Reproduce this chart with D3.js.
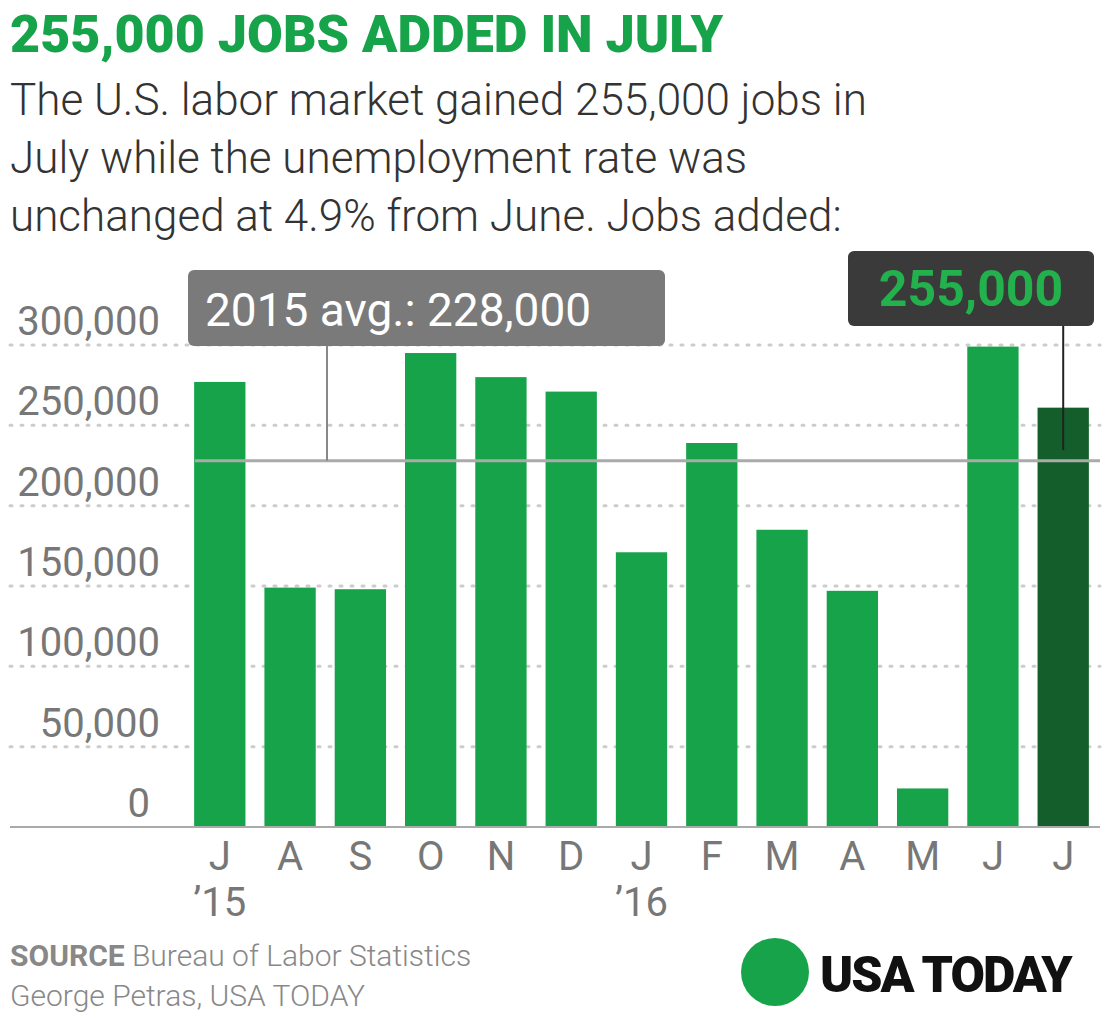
<!DOCTYPE html>
<html><head><meta charset="utf-8">
<script src="https://cdn.jsdelivr.net/npm/d3@7"></script>
<style>body{margin:0;background:#fff;font-family:Roboto,"Open Sans",sans-serif}</style>
</head><body><svg id="c" width="1115" height="1019"></svg>
<script>
const months = ["J","A","S","O","N","D","J","F","M","A","M","J","J"];
const yearLabels = ["'15","","","","","","'16","","","","","",""];
const jobs = [277000,149000,148000,295000,280000,271000,171000,239000,185000,147000,24000,299000,261000];
const yTicks = [0,50000,100000,150000,200000,250000,300000];
const avg2015 = 228000;

const svg = d3.select("#c");
const green = "#17a34a", dark = "#135e2b", grey = "#777";

svg.append("text").attr("x",10).attr("y",52).attr("fill",green)
  .style("font-size","52px").style("font-weight",900).text("255,000 JOBS ADDED IN JULY");
["The U.S. labor market gained 255,000 jobs in","July while the unemployment rate was","unchanged at 4.9% from June. Jobs added:"]
  .forEach((t,i)=>svg.append("text").attr("x",10).attr("y",115+i*58).attr("fill","#333")
  .style("font-size","44px").style("font-weight",300).text(t));

const x = d3.scaleBand().domain(d3.range(months.length)).range([185,1098]).paddingInner(0.27).paddingOuter(0.13);
const y = d3.scaleLinear().domain([0,300000]).range([827,345]);

const g = svg.append("g");
g.selectAll(".grid").data(yTicks.slice(1)).join("line")
  .attr("x1",10).attr("x2",1100).attr("y1",d=>y(d)).attr("y2",d=>y(d))
  .attr("stroke","#ccc").attr("stroke-width",3).attr("stroke-dasharray","2,9").attr("stroke-linecap","round");
g.selectAll(".tl").data(yTicks).join("text")
  .attr("x",d=>d===0?150:160).attr("y",d=>y(d)-10).attr("text-anchor","end")
  .attr("fill",grey).style("font-size","40px").text(d=>d3.format(",")(d));

g.selectAll("rect").data(jobs).join("rect")
  .attr("x",(d,i)=>x(i)).attr("width",x.bandwidth())
  .attr("y",d=>y(d)).attr("height",d=>y(0)-y(d))
  .attr("fill",(d,i)=>i===jobs.length-1?dark:green);

svg.append("line").attr("x1",10).attr("x2",1100).attr("y1",y(0)).attr("y2",y(0)).attr("stroke","#aaa").attr("stroke-width",2);
svg.append("line").attr("x1",195).attr("x2",1100).attr("y1",y(avg2015)).attr("y2",y(avg2015)).attr("stroke","#aaa").attr("stroke-width",3);

// avg callout
svg.append("line").attr("x1",327).attr("x2",327).attr("y1",340).attr("y2",y(avg2015)).attr("stroke","#888").attr("stroke-width",2);
svg.append("rect").attr("x",188).attr("y",270).attr("width",477).attr("height",76).attr("rx",6).attr("fill","#7a7a7a");
svg.append("text").attr("x",205).attr("y",326).attr("fill","#fff").style("font-size","46px").text("2015 avg.: 228,000");

// july callout
const lx = x(12)+x.bandwidth()/2;
svg.append("line").attr("x1",lx).attr("x2",lx).attr("y1",320).attr("y2",450).attr("stroke","#222").attr("stroke-width",2);
svg.append("rect").attr("x",848).attr("y",251).attr("width",246).attr("height",75).attr("rx",6).attr("fill","#3a3a3a");
svg.append("text").attr("x",971).attr("y",306).attr("text-anchor","middle").attr("fill","#22b14c")
  .style("font-size","50px").style("font-weight",700).text("255,000");

g.selectAll(".m").data(months).join("text")
  .attr("x",(d,i)=>x(i)+x.bandwidth()/2).attr("y",870).attr("text-anchor","middle")
  .attr("fill",grey).style("font-size","40px").text(d=>d);
g.selectAll(".yr").data(yearLabels).join("text")
  .attr("x",(d,i)=>x(i)+x.bandwidth()/2).attr("y",916).attr("text-anchor","middle")
  .attr("fill",grey).style("font-size","40px").text(d=>d.replace("'","\u2019"));

svg.append("text").attr("x",10).attr("y",966).attr("fill","#888").style("font-size","30px")
  .html('<tspan font-weight="700">SOURCE</tspan><tspan font-weight="300"> Bureau of Labor Statistics</tspan>');
svg.append("text").attr("x",10).attr("y",1006).attr("fill","#888").style("font-size","30px").style("font-weight",300)
  .text("George Petras, USA TODAY");
svg.append("circle").attr("cx",775).attr("cy",972).attr("r",34).attr("fill",green);
svg.append("text").attr("x",820).attr("y",992).attr("fill","#111").style("font-size","50px").style("font-weight",900)
  .style("letter-spacing","-2px").text("USA TODAY");
</script></body></html>
